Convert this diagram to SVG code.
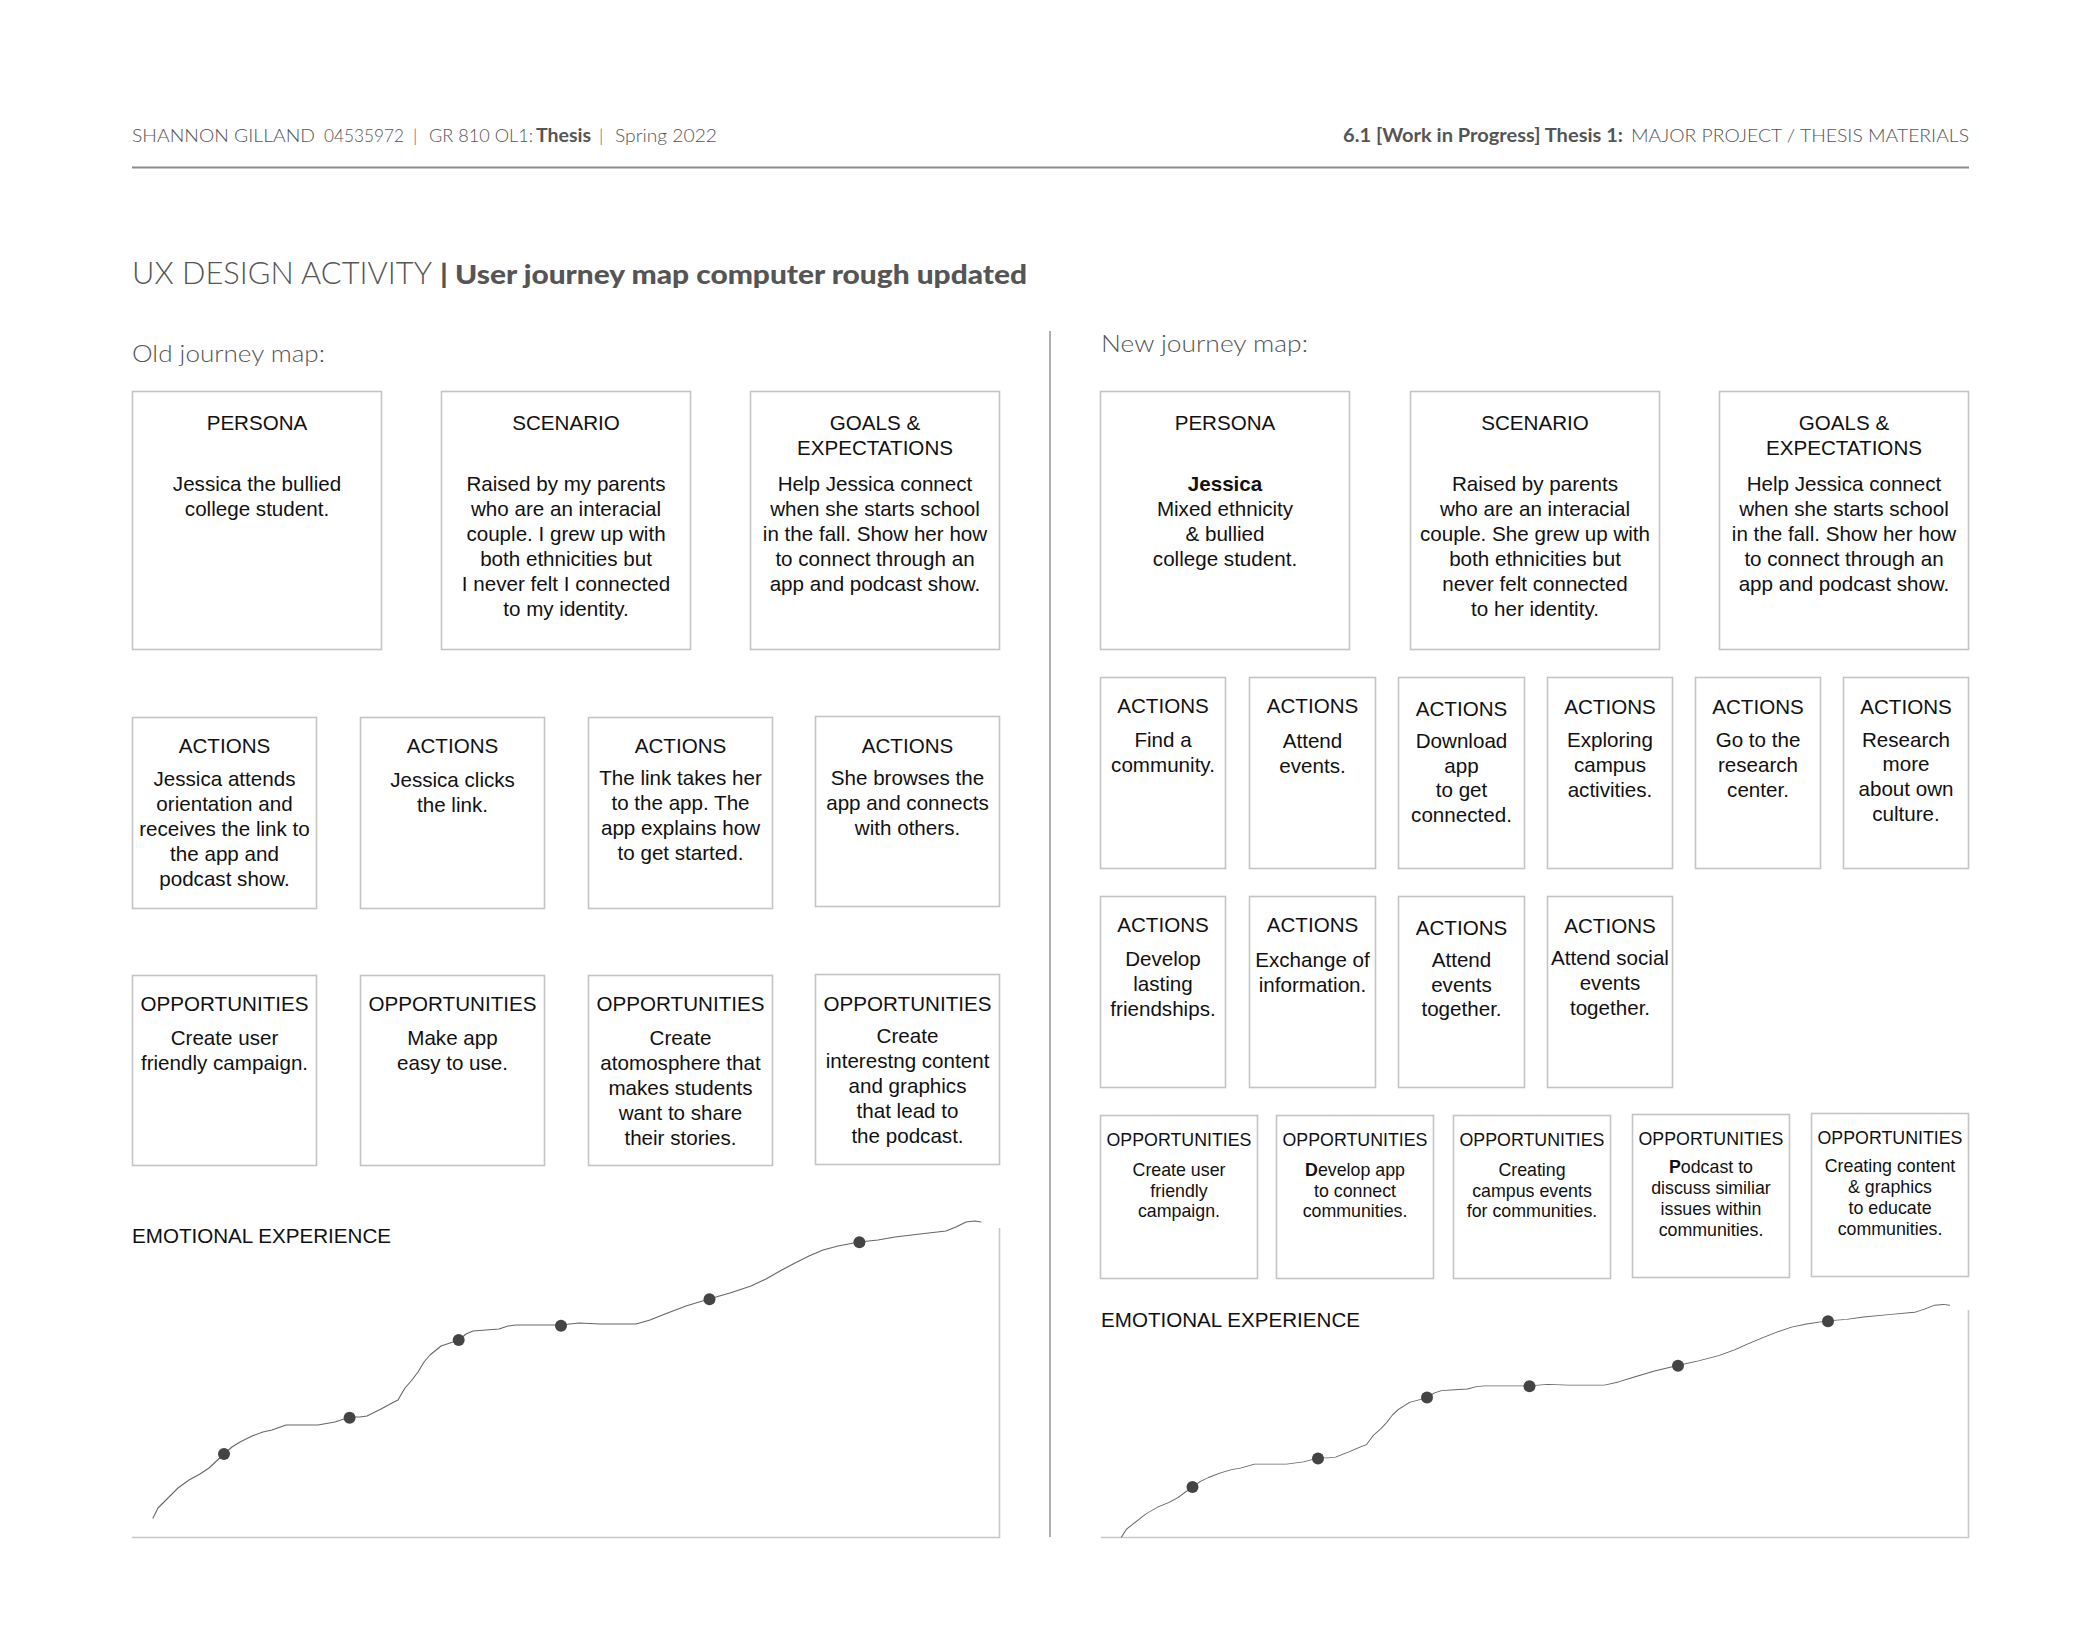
<svg xmlns="http://www.w3.org/2000/svg" width="2100" height="1650" viewBox="0 0 2100 1650">
<style>
.box{fill:#fff;stroke:#c4c4c4;stroke-width:1.6}
.t{font-family:"Liberation Sans",Arial,sans-serif;font-size:20.6px;fill:#111;text-anchor:middle}
.s{font-size:17.8px}
.lab{font-family:"Liberation Sans",Arial,sans-serif;font-size:20.6px;fill:#111}
.hd{font-family:Lato,"Open Sans",sans-serif;fill:#555}
.axis{stroke:#c8c8c8;stroke-width:1.6;fill:none}
.curve{fill:none;stroke:#666;stroke-width:1.1;stroke-linejoin:round;stroke-linecap:round}
.dot{fill:#444}
</style>
<defs>
<path id="emo" d="M153,1518 L158,1508 L166,1500 L178,1488 L189,1480 L200,1474 L209,1468 L224,1454 L232,1447 L240,1442 L252,1436 L263,1432 L272,1430 L286,1425 L302,1425 L318,1425 L335,1422 L350,1417 L360,1417 L367,1416 L381,1409 L392,1403 L398,1400 L402,1393 L405,1388 L412,1380 L418,1372 L424,1362 L430,1355 L441,1346 L459,1340 L466,1334 L473,1331 L486,1330 L499,1329 L508,1326 L516,1325 L540,1325 L561,1325 L579,1323 L600,1324 L636,1324 L650,1320 L665,1314 L686,1306 L709,1299 L730,1293 L751,1286 L766,1279 L780,1271 L795,1263 L809,1256 L823,1250 L838,1246 L859,1242 L878,1240 L895,1237 L920,1234 L946,1231 L956,1227 L966,1222 L975,1221 L981,1222"/>
</defs>
<rect width="2100" height="1650" fill="#fff"/>

<g id="header">
<text class="hd" y="142" font-size="18" font-weight="300"><tspan x="132" textLength="183" lengthAdjust="spacingAndGlyphs">SHANNON GILLAND</tspan><tspan x="324" textLength="80" lengthAdjust="spacingAndGlyphs">04535972</tspan><tspan x="413">|</tspan><tspan x="429" textLength="104" lengthAdjust="spacingAndGlyphs">GR 810 OL1:</tspan><tspan x="536" font-weight="700" textLength="55" lengthAdjust="spacingAndGlyphs">Thesis</tspan><tspan x="599">|</tspan><tspan x="615" textLength="102" lengthAdjust="spacingAndGlyphs">Spring 2022</tspan></text>
<text class="hd" y="142" font-size="18"><tspan x="1343" font-weight="700" textLength="280" lengthAdjust="spacingAndGlyphs">6.1 [Work in Progress] Thesis 1:</tspan><tspan x="1631" font-weight="300" textLength="338" lengthAdjust="spacingAndGlyphs">MAJOR PROJECT / THESIS MATERIALS</tspan></text>
<line x1="132" y1="167.5" x2="1969" y2="167.5" stroke="#8a8a8a" stroke-width="2"/>
</g>

<g id="title">
<text class="hd" x="132" y="284" font-size="32" font-weight="300" fill="#555" textLength="300" lengthAdjust="spacingAndGlyphs">UX DESIGN ACTIVITY</text>
<text class="hd" x="440" y="284" font-size="27" font-weight="900" fill="#444" textLength="587" lengthAdjust="spacingAndGlyphs">| User journey map computer rough updated</text>
<text class="hd" x="132" y="362" font-size="24" font-weight="300" fill="#777" textLength="193" lengthAdjust="spacingAndGlyphs">Old journey map:</text>
<text class="hd" x="1101" y="352" font-size="24" font-weight="300" fill="#777" textLength="207" lengthAdjust="spacingAndGlyphs">New journey map:</text>
<line x1="1050" y1="331" x2="1050" y2="1537" stroke="#999" stroke-width="1.6"/>
</g>

<!-- OLD JOURNEY MAP -->
<g id="old-persona">
<rect class="box" x="132.5" y="391.5" width="249" height="258"/>
<text class="t" x="257" y="430">PERSONA</text>
<text class="t" x="257" y="491">Jessica the bullied</text>
<text class="t" x="257" y="516">college student.</text>
</g>
<g id="old-scenario">
<rect class="box" x="441.5" y="391.5" width="249" height="258"/>
<text class="t" x="566" y="430">SCENARIO</text>
<text class="t" x="566" y="491">Raised by my parents</text>
<text class="t" x="566" y="516">who are an interacial</text>
<text class="t" x="566" y="541">couple. I grew up with</text>
<text class="t" x="566" y="566">both ethnicities but</text>
<text class="t" x="566" y="591">I never felt I connected</text>
<text class="t" x="566" y="616">to my identity.</text>
</g>
<g id="old-goals">
<rect class="box" x="750.5" y="391.5" width="249" height="258"/>
<text class="t" x="875" y="430">GOALS &amp;</text>
<text class="t" x="875" y="455">EXPECTATIONS</text>
<text class="t" x="875" y="491">Help Jessica connect</text>
<text class="t" x="875" y="516">when she starts school</text>
<text class="t" x="875" y="541">in the fall. Show her how</text>
<text class="t" x="875" y="566">to connect through an</text>
<text class="t" x="875" y="591">app and podcast show.</text>
</g>

<g id="old-action-1">
<rect class="box" x="132.5" y="717.5" width="184" height="191"/>
<text class="t" x="224.5" y="753">ACTIONS</text>
<text class="t" x="224.5" y="786">Jessica attends</text>
<text class="t" x="224.5" y="811">orientation and</text>
<text class="t" x="224.5" y="836">receives the link to</text>
<text class="t" x="224.5" y="861">the app and</text>
<text class="t" x="224.5" y="886">podcast show.</text>
</g>
<g id="old-action-2">
<rect class="box" x="360.5" y="717.5" width="184" height="191"/>
<text class="t" x="452.5" y="753">ACTIONS</text>
<text class="t" x="452.5" y="787">Jessica clicks</text>
<text class="t" x="452.5" y="812">the link.</text>
</g>
<g id="old-action-3">
<rect class="box" x="588.5" y="717.5" width="184" height="191"/>
<text class="t" x="680.5" y="753">ACTIONS</text>
<text class="t" x="680.5" y="785">The link takes her</text>
<text class="t" x="680.5" y="810">to the app. The</text>
<text class="t" x="680.5" y="835">app explains how</text>
<text class="t" x="680.5" y="860">to get started.</text>
</g>
<g id="old-action-4">
<rect class="box" x="815.5" y="716.5" width="184" height="190"/>
<text class="t" x="907.5" y="753">ACTIONS</text>
<text class="t" x="907.5" y="785">She browses the</text>
<text class="t" x="907.5" y="810">app and connects</text>
<text class="t" x="907.5" y="835">with others.</text>
</g>

<g id="old-opp-1">
<rect class="box" x="132.5" y="975.5" width="184" height="190"/>
<text class="t" x="224.5" y="1011">OPPORTUNITIES</text>
<text class="t" x="224.5" y="1045">Create user</text>
<text class="t" x="224.5" y="1070">friendly campaign.</text>
</g>
<g id="old-opp-2">
<rect class="box" x="360.5" y="975.5" width="184" height="190"/>
<text class="t" x="452.5" y="1011">OPPORTUNITIES</text>
<text class="t" x="452.5" y="1045">Make app</text>
<text class="t" x="452.5" y="1070">easy to use.</text>
</g>
<g id="old-opp-3">
<rect class="box" x="588.5" y="975.5" width="184" height="190"/>
<text class="t" x="680.5" y="1011">OPPORTUNITIES</text>
<text class="t" x="680.5" y="1045">Create</text>
<text class="t" x="680.5" y="1070">atomosphere that</text>
<text class="t" x="680.5" y="1095">makes students</text>
<text class="t" x="680.5" y="1120">want to share</text>
<text class="t" x="680.5" y="1145">their stories.</text>
</g>
<g id="old-opp-4">
<rect class="box" x="815.5" y="974.5" width="184" height="190"/>
<text class="t" x="907.5" y="1011">OPPORTUNITIES</text>
<text class="t" x="907.5" y="1043">Create</text>
<text class="t" x="907.5" y="1068">interestng content</text>
<text class="t" x="907.5" y="1093">and graphics</text>
<text class="t" x="907.5" y="1118">that lead to</text>
<text class="t" x="907.5" y="1143">the podcast.</text>
</g>

<g id="old-emotional-experience">
<text class="lab" x="132" y="1243">EMOTIONAL EXPERIENCE</text>
<polyline class="axis" points="132,1537.5 999.5,1537.5 999.5,1228"/>
<use href="#emo" class="curve"/>
<circle class="dot" cx="224" cy="1454" r="6"/>
<circle class="dot" cx="349.6" cy="1417.7" r="6"/>
<circle class="dot" cx="458.7" cy="1340" r="6"/>
<circle class="dot" cx="561" cy="1325.7" r="6"/>
<circle class="dot" cx="709.5" cy="1299.3" r="6"/>
<circle class="dot" cx="859.4" cy="1242.3" r="6"/>
</g>

<!-- NEW JOURNEY MAP -->
<g id="new-persona">
<rect class="box" x="1100.5" y="391.5" width="249" height="258"/>
<text class="t" x="1225" y="430">PERSONA</text>
<text class="t" x="1225" y="491" font-weight="700">Jessica</text>
<text class="t" x="1225" y="516">Mixed ethnicity</text>
<text class="t" x="1225" y="541">&amp; bullied</text>
<text class="t" x="1225" y="566">college student.</text>
</g>
<g id="new-scenario">
<rect class="box" x="1410.5" y="391.5" width="249" height="258"/>
<text class="t" x="1535" y="430">SCENARIO</text>
<text class="t" x="1535" y="491">Raised by parents</text>
<text class="t" x="1535" y="516">who are an interacial</text>
<text class="t" x="1535" y="541">couple. She grew up with</text>
<text class="t" x="1535" y="566">both ethnicities but</text>
<text class="t" x="1535" y="591">never felt connected</text>
<text class="t" x="1535" y="616">to her identity.</text>
</g>
<g id="new-goals">
<rect class="box" x="1719.5" y="391.5" width="249" height="258"/>
<text class="t" x="1844" y="430">GOALS &amp;</text>
<text class="t" x="1844" y="455">EXPECTATIONS</text>
<text class="t" x="1844" y="491">Help Jessica connect</text>
<text class="t" x="1844" y="516">when she starts school</text>
<text class="t" x="1844" y="541">in the fall. Show her how</text>
<text class="t" x="1844" y="566">to connect through an</text>
<text class="t" x="1844" y="591">app and podcast show.</text>
</g>

<g id="new-action-1">
<rect class="box" x="1100.5" y="677.5" width="125" height="191"/>
<text class="t" x="1163" y="713">ACTIONS</text>
<text class="t" x="1163" y="747">Find a</text>
<text class="t" x="1163" y="772">community.</text>
</g>
<g id="new-action-2">
<rect class="box" x="1249.5" y="677.5" width="126" height="191"/>
<text class="t" x="1312.5" y="713">ACTIONS</text>
<text class="t" x="1312.5" y="748">Attend</text>
<text class="t" x="1312.5" y="773">events.</text>
</g>
<g id="new-action-3">
<rect class="box" x="1398.5" y="677.5" width="126" height="191"/>
<text class="t" x="1461.5" y="716">ACTIONS</text>
<text class="t" x="1461.5" y="748">Download</text>
<text class="t" x="1461.5" y="773">app</text>
<text class="t" x="1461.5" y="797">to get</text>
<text class="t" x="1461.5" y="822">connected.</text>
</g>
<g id="new-action-4">
<rect class="box" x="1547.5" y="677.5" width="125" height="191"/>
<text class="t" x="1610" y="714">ACTIONS</text>
<text class="t" x="1610" y="747">Exploring</text>
<text class="t" x="1610" y="772">campus</text>
<text class="t" x="1610" y="797">activities.</text>
</g>
<g id="new-action-5">
<rect class="box" x="1695.5" y="677.5" width="125" height="191"/>
<text class="t" x="1758" y="714">ACTIONS</text>
<text class="t" x="1758" y="747">Go to the</text>
<text class="t" x="1758" y="772">research</text>
<text class="t" x="1758" y="797">center.</text>
</g>
<g id="new-action-6">
<rect class="box" x="1843.5" y="677.5" width="125" height="191"/>
<text class="t" x="1906" y="714">ACTIONS</text>
<text class="t" x="1906" y="747">Research</text>
<text class="t" x="1906" y="771">more</text>
<text class="t" x="1906" y="796">about own</text>
<text class="t" x="1906" y="821">culture.</text>
</g>

<g id="new-action-7">
<rect class="box" x="1100.5" y="896.5" width="125" height="191"/>
<text class="t" x="1163" y="932">ACTIONS</text>
<text class="t" x="1163" y="966">Develop</text>
<text class="t" x="1163" y="991">lasting</text>
<text class="t" x="1163" y="1016">friendships.</text>
</g>
<g id="new-action-8">
<rect class="box" x="1249.5" y="896.5" width="126" height="191"/>
<text class="t" x="1312.5" y="932">ACTIONS</text>
<text class="t" x="1312.5" y="967">Exchange of</text>
<text class="t" x="1312.5" y="992">information.</text>
</g>
<g id="new-action-9">
<rect class="box" x="1398.5" y="896.5" width="126" height="191"/>
<text class="t" x="1461.5" y="935">ACTIONS</text>
<text class="t" x="1461.5" y="967">Attend</text>
<text class="t" x="1461.5" y="992">events</text>
<text class="t" x="1461.5" y="1016">together.</text>
</g>
<g id="new-action-10">
<rect class="box" x="1547.5" y="896.5" width="125" height="191"/>
<text class="t" x="1610" y="933">ACTIONS</text>
<text class="t" x="1610" y="965">Attend social</text>
<text class="t" x="1610" y="990">events</text>
<text class="t" x="1610" y="1015">together.</text>
</g>

<g id="new-opp-1">
<rect class="box" x="1100.5" y="1115.5" width="157" height="163"/>
<text class="t s" x="1179" y="1146">OPPORTUNITIES</text>
<text class="t s" x="1179" y="1176">Create user</text>
<text class="t s" x="1179" y="1196.5">friendly</text>
<text class="t s" x="1179" y="1217">campaign.</text>
</g>
<g id="new-opp-2">
<rect class="box" x="1276.5" y="1115.5" width="157" height="163"/>
<text class="t s" x="1355" y="1146">OPPORTUNITIES</text>
<text class="t s" x="1355" y="1176"><tspan font-weight="700">D</tspan>evelop app</text>
<text class="t s" x="1355" y="1196.5">to connect</text>
<text class="t s" x="1355" y="1217">communities.</text>
</g>
<g id="new-opp-3">
<rect class="box" x="1453.5" y="1115.5" width="157" height="163"/>
<text class="t s" x="1532" y="1146">OPPORTUNITIES</text>
<text class="t s" x="1532" y="1176">Creating</text>
<text class="t s" x="1532" y="1196.5">campus events</text>
<text class="t s" x="1532" y="1217">for communities.</text>
</g>
<g id="new-opp-4">
<rect class="box" x="1632.5" y="1114.5" width="157" height="163"/>
<text class="t s" x="1711" y="1145">OPPORTUNITIES</text>
<text class="t s" x="1711" y="1173"><tspan font-weight="700">P</tspan>odcast to</text>
<text class="t s" x="1711" y="1194">discuss similiar</text>
<text class="t s" x="1711" y="1215">issues within</text>
<text class="t s" x="1711" y="1236">communities.</text>
</g>
<g id="new-opp-5">
<rect class="box" x="1811.5" y="1113.5" width="157" height="163"/>
<text class="t s" x="1890" y="1144">OPPORTUNITIES</text>
<text class="t s" x="1890" y="1172">Creating content</text>
<text class="t s" x="1890" y="1193">&amp; graphics</text>
<text class="t s" x="1890" y="1214">to educate</text>
<text class="t s" x="1890" y="1235">communities.</text>
</g>

<g id="new-emotional-experience">
<text class="lab" x="1101" y="1327">EMOTIONAL EXPERIENCE</text>
<polyline class="axis" points="1101,1537.5 1968.5,1537.5 1968.5,1310"/>
<g transform="translate(968.5,1537) scale(1,0.783) translate(0,-1518)">
<use href="#emo" class="curve" vector-effect="non-scaling-stroke" style="vector-effect:non-scaling-stroke"/>
</g>
<circle class="dot" cx="1192.5" cy="1487" r="6"/>
<circle class="dot" cx="1318" cy="1458.4" r="6"/>
<circle class="dot" cx="1427" cy="1397.5" r="6"/>
<circle class="dot" cx="1529.5" cy="1386.3" r="6"/>
<circle class="dot" cx="1678" cy="1365.8" r="6"/>
<circle class="dot" cx="1828" cy="1321.3" r="6"/>
</g>
</svg>
